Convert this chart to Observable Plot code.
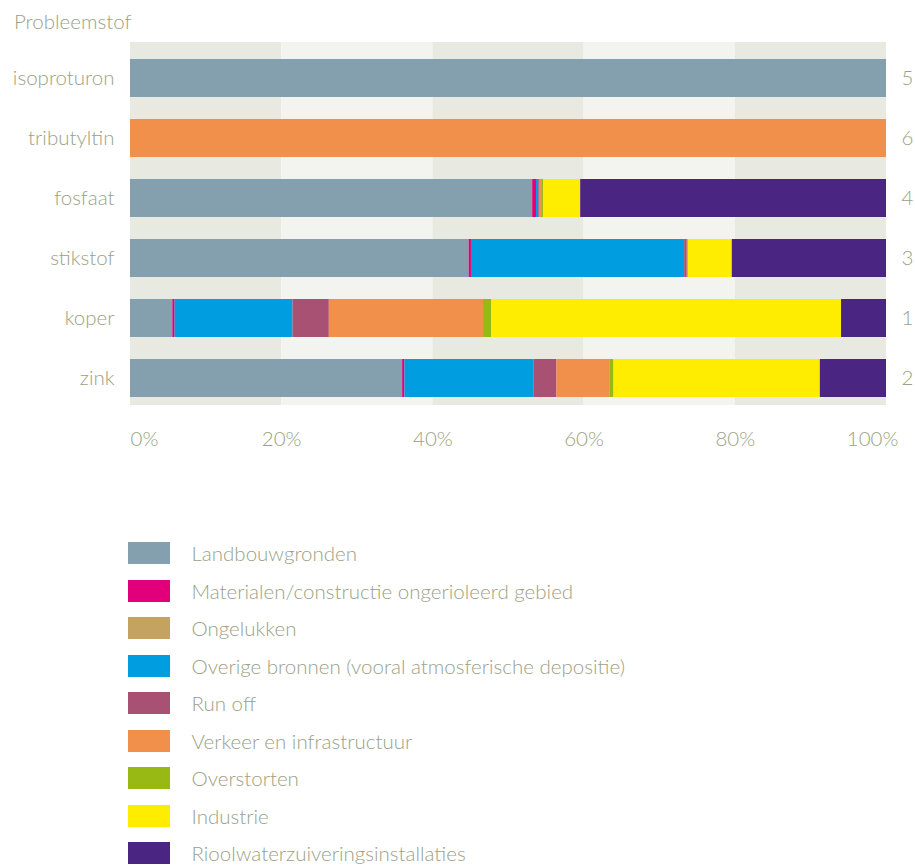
<!DOCTYPE html>
<html>
<head>
<meta charset="utf-8">
<script src="https://cdn.jsdelivr.net/npm/d3@7"></script>
<script src="https://cdn.jsdelivr.net/npm/@observablehq/plot@0.6"></script>
<style>
  html, body { margin: 0; padding: 0; background: #ffffff; }
  body { width: 915px; height: 866px; position: relative; font-family: Lato, "Open Sans", sans-serif; font-weight: 300; color: #9aa285; }
  #title { position: absolute; left: 14px; top: 11px; font-size: 20.5px; line-height: 20px; }
  #chart { position: absolute; left: 0; top: 0; }
  #legend { position: absolute; left: 128px; top: 542px; }
  .row { display: flex; align-items: center; height: 22px; margin-bottom: 15.5px; }
  .sw { width: 42px; height: 22px; margin-right: 21.5px; flex: none; }
  .lab { font-size: 20.5px; line-height: 22px; white-space: nowrap; }
</style>
</head>
<body>
<div id="title">Probleemstof</div>
<div id="chart"></div>
<div id="legend"></div>
<script>
const categories = ["isoproturon", "tributyltin", "fosfaat", "stikstof", "koper", "zink"];
const ranks = ["5", "6", "4", "3", "1", "2"];
const sources = [
  "Landbouwgronden",
  "Materialen/constructie ongerioleerd gebied",
  "Ongelukken",
  "Overige bronnen (vooral atmosferische depositie)",
  "Run off",
  "Verkeer en infrastructuur",
  "Overstorten",
  "Industrie",
  "Rioolwaterzuiveringsinstallaties"
];
const colors = ["#84a0ae", "#e2007a", "#c4a360", "#009ee0", "#a85173", "#f0904a", "#98b814", "#ffed00", "#4a2682"];
// percentage per category (same order as categories)
const landbouwgronden = [100, 0, 53.2, 44.8, 5.6, 36.0];
const materialen      = [0, 0, 0.5, 0.3, 0.3, 0.3];
const ongelukken      = [0, 0, 0, 0, 0, 0];
const overigeBronnen  = [0, 0, 0.3, 28.2, 15.6, 17.1];
const runOff          = [0, 0, 0.1, 0.35, 4.8, 3.0];
const verkeer         = [0, 100, 0.4, 0.15, 20.4, 7.0];
const overstorten     = [0, 0, 0.15, 0, 1.05, 0.55];
const industrie       = [0, 0, 4.9, 5.8, 46.3, 27.3];
const rwzi            = [0, 0, 40.45, 20.4, 5.95, 8.75];
const xTicks = [0, 20, 40, 60, 80, 100];

const series = [landbouwgronden, materialen, ongelukken, overigeBronnen, runOff, verkeer, overstorten, industrie, rwzi];
const table = [];
categories.forEach((c, ci) => {
  sources.forEach((s, si) => {
    table.push({category: c, source: s, value: series[si][ci]});
  });
});
const stripes = xTicks.slice(0, -1).map((t, i) => ({x1: t, x2: xTicks[i + 1], i}));
const rankOf = new Map(categories.map((c, i) => [c, ranks[i]]));

const textColor = "#9aa285";
const chart = Plot.plot({
  width: 915,
  height: 470,
  marginLeft: 130,
  marginRight: 29,
  marginTop: 42,
  marginBottom: 65,
  style: {fontFamily: "Lato, 'Open Sans', sans-serif", fontWeight: 300, fontSize: "20.5px", color: textColor, background: "transparent"},
  x: {domain: [0, 100]},
  y: {domain: categories, range: [46.5, 409.5], paddingInner: 0.372, paddingOuter: 0.186},
  color: {domain: sources, range: colors},
  marks: [
    Plot.rectX(stripes, {x1: "x1", x2: "x2", fill: d => d.i % 2 ? "#f3f4ef" : "#e8eae2"}),
    Plot.barX(table, {x: "value", y: "category", fill: "source", order: null}),
    Plot.axisY({anchor: "left", tickSize: 0, tickPadding: 16, label: null, fill: textColor, fontSize: 20.5}),
    Plot.axisY({anchor: "right", tickSize: 0, tickPadding: 15, label: null, tickFormat: d => rankOf.get(d), fill: textColor, fontSize: 20.5}),
    Plot.axisX({ticks: [xTicks[0]], anchor: "bottom", tickSize: 0, tickPadding: 26, textAnchor: "start", tickFormat: d => d + "%", label: null, fill: textColor, fontSize: 20.5}),
    Plot.axisX({ticks: xTicks.slice(1, -1), anchor: "bottom", tickSize: 0, tickPadding: 26, tickFormat: d => d + "%", label: null, fill: textColor, fontSize: 20.5}),
    Plot.axisX({ticks: xTicks.slice(-1), anchor: "bottom", tickSize: 0, tickPadding: 26, textAnchor: "end", dx: 12, tickFormat: d => d + "%", label: null, fill: textColor, fontSize: 20.5})
  ]
});
document.getElementById("chart").appendChild(chart);

const legend = document.getElementById("legend");
sources.forEach((s, i) => {
  const row = document.createElement("div");
  row.className = "row";
  const sw = document.createElement("div");
  sw.className = "sw";
  sw.style.background = colors[i];
  const lab = document.createElement("div");
  lab.className = "lab";
  lab.textContent = s;
  row.appendChild(sw);
  row.appendChild(lab);
  legend.appendChild(row);
});
</script>
</body>
</html>
